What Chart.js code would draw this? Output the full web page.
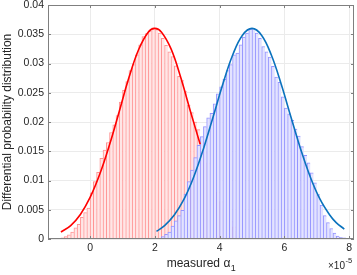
<!DOCTYPE html>
<html>
<head>
<meta charset="utf-8">
<script src="https://cdn.jsdelivr.net/npm/chart.js@4.4.1/dist/chart.umd.min.js"></script>
<style>
  html, body { margin: 0; padding: 0; background: #fff; }
</style>
</head>
<body>
<canvas id="c" width="357" height="275"></canvas>
<script>
// bin centres are in units of 1e-5
const redBins = [-0.85,-0.75,-0.65,-0.55,-0.45,-0.35,-0.25,-0.15,-0.05,0.05,0.15,0.25,0.35,0.45,0.55,0.65,0.75,0.85,0.95,
  1.05,1.15,1.25,1.35,1.45,1.55,1.65,1.75,1.85,1.95,2.05,2.15,2.25,2.35,2.45,2.55,2.65,2.75,2.85,2.95,
  3.05,3.15,3.25,3.35,3.45,3.55,3.65,3.75,3.85,3.95,4.05,4.15,4.25,4.35,4.45,4.55,4.65];
const redValues = [0.0002,0.0004,0.0007,0.0012,0.0019,0.0025,0.0037,0.0045,0.0053,0.0079,0.0098,0.0114,0.0138,0.0152,0.0165,0.0182,0.0195,0.0211,0.0234,
  0.0254,0.0269,0.0288,0.0298,0.0315,0.0332,0.0346,0.0351,0.0356,0.0361,0.0358,0.0352,0.0343,0.0331,0.0320,0.0312,0.0296,0.0278,0.0271,0.0252,
  0.0229,0.0216,0.0200,0.0187,0.0168,0.0148,0.0130,0.0112,0.0095,0.0080,0.0064,0.0051,0.0040,0.0030,0.0021,0.0014,0.0008];

const blueBins = [2.15,2.25,2.35,2.45,2.55,2.65,2.75,2.85,2.95,3.05,3.15,3.25,3.35,3.45,3.55,3.65,3.75,3.85,3.95,
  4.05,4.15,4.25,4.35,4.45,4.55,4.65,4.75,4.85,4.95,5.05,5.15,5.25,5.35,5.45,5.55,5.65,5.75,5.85,5.95,
  6.05,6.15,6.25,6.35,6.45,6.55,6.65,6.75,6.85,6.95,7.05,7.15,7.25,7.35,7.45,7.55,7.65,7.75,7.85,7.95];
const blueValues = [0.0001,0.0004,0.0008,0.0012,0.0022,0.0031,0.0040,0.0049,0.0077,0.0098,0.0118,0.0139,0.0160,0.0175,0.0192,0.0207,0.0215,0.0231,0.0248,
  0.0260,0.0273,0.0288,0.0298,0.0315,0.0318,0.0332,0.0345,0.0352,0.0359,0.0360,0.0352,0.0343,0.0329,0.0320,0.0311,0.0295,0.0277,0.0268,0.0243,
  0.0224,0.0214,0.0203,0.0188,0.0176,0.0158,0.0143,0.0130,0.0113,0.0096,0.0076,0.0058,0.0040,0.0028,0.0018,0.0010,0.0005,0.0003,0.0002,0.0001];

// fitted curves
const redCurveX = [-0.9,-0.6,-0.3,0,0.3,0.6,0.9,1.2,1.5,1.8,2.0,2.2,2.5,2.8,3.1,3.4];
const redCurveY = [0.0012,0.0023,0.0042,0.0071,0.0111,0.0161,0.0218,0.0276,0.0324,0.0354,0.0360,0.0354,0.0325,0.0276,0.0218,0.0162];
const blueCurveX = [2.05,2.3,2.6,2.9,3.2,3.5,3.8,4.1,4.4,4.7,5.0,5.3,5.6,5.9,6.2,6.5,6.8,7.1,7.4,7.6,7.85];
const blueCurveY = [0.0013,0.0023,0.0041,0.0068,0.0106,0.0154,0.0209,0.0265,0.0314,0.0348,0.0360,0.0348,0.0314,0.0265,0.0209,0.0154,0.0106,0.0068,0.0041,0.0028,0.0017];

const xTicks = [0, 2, 4, 6, 8];
const yTicks = [0, 0.005, 0.01, 0.015, 0.02, 0.025, 0.03, 0.035, 0.04];

const pts = (xs, ys) => xs.map((x, i) => ({ x: x, y: ys[i] }));
const tickFont = { family: "'Liberation Sans Narrow', 'Liberation Sans', Arial, sans-serif", size: 10.5 };
const txt = '#262626';

const frame = {
  id: 'frame',
  afterDraw(chart) {
    const { ctx, chartArea: a, scales } = chart;
    const x = scales.x, y = scales.y;
    ctx.save();
    ctx.strokeStyle = '#7f7f7f';
    ctx.lineWidth = 1;
    ctx.strokeRect(a.left + 0.5, a.top + 0.5, a.right - a.left - 1, a.bottom - a.top - 1);
    ctx.beginPath();
    xTicks.forEach(v => {
      const px = Math.round(x.getPixelForValue(v)) + 0.5;
      ctx.moveTo(px, a.bottom); ctx.lineTo(px, a.bottom - 3);
      ctx.moveTo(px, a.top); ctx.lineTo(px, a.top + 3);
    });
    yTicks.forEach(v => {
      const py = Math.round(y.getPixelForValue(v)) + 0.5;
      ctx.moveTo(a.left, py); ctx.lineTo(a.left + 3, py);
      ctx.moveTo(a.right, py); ctx.lineTo(a.right - 3, py);
    });
    ctx.stroke();

    ctx.fillStyle = txt;
    // y title
    ctx.save();
    ctx.translate(8, (a.top + a.bottom) / 2);
    ctx.rotate(-Math.PI / 2);
    ctx.font = "12px 'Liberation Sans', Arial, sans-serif";
    ctx.textAlign = 'center';
    ctx.textBaseline = 'middle';
    ctx.fillText('Differential probability distribution', 0, 0);
    ctx.restore();

    // x title with subscript
    ctx.textBaseline = 'alphabetic';
    ctx.textAlign = 'left';
    const main = 'measured \u03b1', sub = '1';
    ctx.font = "12px 'Liberation Sans', Arial, sans-serif";
    const w1 = ctx.measureText(main).width;
    ctx.font = "9px 'Liberation Sans', Arial, sans-serif";
    const w2 = ctx.measureText(sub).width;
    const x0 = (a.left + a.right) / 2 - (w1 + w2) / 2;
    ctx.font = "12px 'Liberation Sans', Arial, sans-serif";
    ctx.fillText(main, x0, 267);
    ctx.font = "9px 'Liberation Sans', Arial, sans-serif";
    ctx.fillText(sub, x0 + w1 + 0.5, 271);

    // exponent label
    ctx.font = "10px 'Liberation Sans', Arial, sans-serif";
    ctx.fillText('\u00d710', 328, 269);
    const we = ctx.measureText('\u00d710').width;
    ctx.font = "7.5px 'Liberation Sans', Arial, sans-serif";
    ctx.fillText('-5', 328 + we + 0.5, 263);
    ctx.restore();
  }
};

new Chart(document.getElementById('c'), {
  type: 'bar',
  data: {
    datasets: [
      { type: 'line', data: pts(redCurveX, redCurveY), borderColor: '#ff0000', borderWidth: 1.6,
        pointRadius: 0, tension: 0.4, fill: false, order: 0 },
      { type: 'line', data: pts(blueCurveX, blueCurveY), borderColor: '#0a72bd', borderWidth: 1.6,
        pointRadius: 0, tension: 0.4, fill: false, order: 0 },
      { type: 'bar', data: pts(blueBins, blueValues), backgroundColor: '#e3e3ff', borderColor: '#9494ff',
        borderWidth: { left: 1, top: 1, right: 0, bottom: 0 }, grouped: false,
        barPercentage: 1, categoryPercentage: 1, order: 1 },
      { type: 'bar', data: pts(redBins, redValues), backgroundColor: '#ffe6e6', borderColor: '#ff9494',
        borderWidth: { left: 1, top: 1, right: 0, bottom: 0 }, grouped: false,
        barPercentage: 1, categoryPercentage: 1, order: 2 }
    ]
  },
  options: {
    responsive: false,
    animation: false,
    layout: { padding: { left: 0, right: 3, top: 5, bottom: 0 } },
    plugins: { legend: { display: false }, tooltip: { enabled: false } },
    scales: {
      x: {
        type: 'linear', min: -1.3, max: 8.15, offset: false,
        grid: { color: '#ebebeb', offset: false, drawTicks: false },
        border: { display: false },
        afterBuildTicks: s => { s.ticks = xTicks.map(v => ({ value: v })); },
        afterFit: s => { s.height = 36; s.paddingLeft = 0; s.paddingRight = 0; },
        ticks: { color: txt, font: tickFont, padding: 3, maxRotation: 0, callback: v => String(v) }
      },
      y: {
        min: 0, max: 0.04,
        grid: { color: '#ebebeb', drawTicks: false },
        border: { display: false },
        afterBuildTicks: s => { s.ticks = yTicks.map(v => ({ value: v })); },
        afterFit: s => { s.width = 48; s.paddingTop = 0; s.paddingBottom = 0; },
        ticks: { color: txt, font: tickFont, padding: 4, callback: v => String(Math.round(v * 1000) / 1000) }
      }
    }
  },
  plugins: [frame]
});
</script>
</body>
</html>
